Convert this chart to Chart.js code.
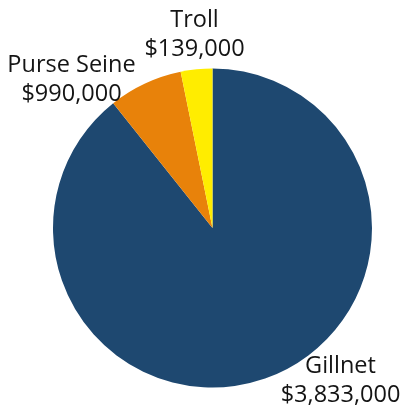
<!DOCTYPE html>
<html>
<head>
<meta charset="utf-8">
<script src="https://cdn.jsdelivr.net/npm/chart.js@4/dist/chart.umd.min.js"></script>
<style>
  html, body { margin: 0; padding: 0; background: #fff; }
  #wrap { width: 402px; height: 409px; position: relative; }
</style>
</head>
<body>
<div id="wrap"><canvas id="grafico"></canvas></div>
<script>
// categorias e valores (fatia em %; rotulo em dolares)
const categorias = ["Gillnet", "Purse Seine", "Troll"];
const fatias = [89.3, 7.5, 3.2];
const valores = ["$3,833,000", "$990,000", "$139,000"];
const cores = ["#1e4870", "#e8820a", "#ffed00"];

// posicao dos rotulos relativa ao centro da pizza (px)
const posRotulos = [
  { dx: 128, dy: 145 },
  { dx: -141, dy: -156 },
  { dx: -18, dy: -201 }
];

// plugin simples para escrever os rotulos
const rotulos = {
  id: "rotulos",
  afterDraw(chart) {
    const ctx = chart.ctx;
    const arco = chart.getDatasetMeta(0).data[0];
    ctx.save();
    ctx.fillStyle = "#141414";
    ctx.font = "23.5px 'Open Sans', sans-serif";
    ctx.textAlign = "center";
    ctx.textBaseline = "alphabetic";
    categorias.forEach(function (nome, i) {
      const x = arco.x + posRotulos[i].dx;
      const y = arco.y + posRotulos[i].dy;
      ctx.fillText(nome, x, y);
      ctx.fillText(valores[i], x, y + 29);
    });
    ctx.restore();
  }
};

new Chart(document.getElementById("grafico"), {
  type: "pie",
  data: {
    labels: categorias,
    datasets: [{
      data: fatias,
      backgroundColor: cores,
      borderWidth: 0
    }]
  },
  options: {
    responsive: true,
    maintainAspectRatio: false,
    animation: false,
    layout: { padding: { top: 68, bottom: 21, left: 53, right: 30 } },
    plugins: {
      legend: { display: false },
      tooltip: { enabled: false }
    }
  },
  plugins: [rotulos]
});
</script>
</body>
</html>
